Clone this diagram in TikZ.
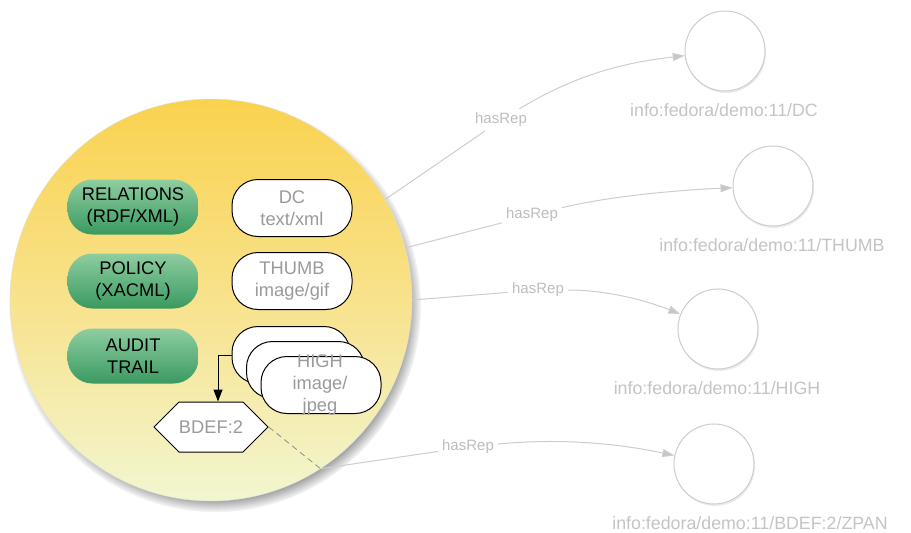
\documentclass[tikz,border=0pt]{standalone}
\usepackage{fontspec}
\setmainfont{Liberation Sans}
\usetikzlibrary{shapes.symbols,shadows,fadings,arrows.meta}
\definecolor{circtop}{HTML}{F9D24E}
\definecolor{circmid}{HTML}{F8E28C}
\definecolor{circbot}{HTML}{F2F6D0}
\definecolor{greentop}{HTML}{8ECDA1}
\definecolor{greenbot}{HTML}{3A9A60}
\definecolor{boxtext}{HTML}{9A9A9A}
\definecolor{relline}{HTML}{CDCDCD}
\definecolor{reltext}{HTML}{BDBDBD}
\definecolor{uritext}{HTML}{C4C4C4}
\tikzset{
  x=1pt, y=-1pt,
  bigcirc/.style={circle, minimum size=402pt, inner sep=0pt, draw=black!12, line width=0.4pt,
     top color=circtop, bottom color=circbot, middle color=circmid,
     circular drop shadow={shadow xshift=4pt, shadow yshift=-6pt, shadow scale=1.025, opacity=1, fill=black!85}},
  greenbox/.style={rectangle, rounded corners=25pt, minimum width=131pt, minimum height=55pt,
     top color=greentop, bottom color=greenbot, align=center, inner sep=0pt,
     font=\fontsize{18.3}{22}\selectfont, text=black},
  whitebox/.style={rectangle, rounded corners=26pt, minimum width=120pt, minimum height=57pt,
     draw=black, line width=1pt, fill=white, align=center, inner sep=0pt,
     font=\fontsize{18.3}{22}\selectfont, text=boxtext},
  hexbox/.style={shape=signal, signal to=west and east, signal pointer angle=90,
     minimum width=108pt, minimum height=50pt, inner sep=0pt, draw=black, line width=1pt, fill=white,
     font=\fontsize{18.3}{22}\selectfont, text=boxtext},
  target/.style={circle, minimum size=80pt, inner sep=0pt, draw=relline, line width=1pt, fill=white,
     drop shadow={shadow xshift=1pt, shadow yshift=-2pt, opacity=0.08, fill=black}},
  uri/.style={font=\fontsize{17.8}{21}\selectfont, text=uritext, inner sep=0pt},
  rellab/.style={font=\fontsize{15}{18}\selectfont, text=reltext, inner sep=4pt},
  relline/.style={draw=relline, line width=1pt},
  relarrow/.style={relline, -{Triangle[length=12pt, width=8pt, fill=black!22]}},
  blackarrow/.style={draw=black, line width=1pt, -{Triangle[length=12pt, width=9pt]}},
}
\begin{document}
\begin{tikzpicture}
\useasboundingbox (0,0) rectangle (911,533);

% big object circle
\node[bigcirc] (big) at (211,300) {};

% green system datastreams
\node[greenbox] (rels) at (133,207) {RELATIONS\\(RDF/XML)};
\node[greenbox] (policy) at (133,281) {POLICY\\(XACML)};
\node[greenbox] (audit) at (133,356) {AUDIT\\TRAIL};

% white datastreams
\node[whitebox] (dc) at (292,208) {DC\\text/xml};
\node[whitebox] (thumb) at (292,281) {THUMB\\image/gif};
\node[whitebox, minimum width=118pt] (high1) at (291,355) {};
\node[whitebox, minimum width=118pt] (high2) at (305.5,370) {};
\node[whitebox] (high3) at (321,385) {};
\node[font=\fontsize{18.3}{22}\selectfont, text=boxtext, align=center, inner sep=0pt] (hightxt) at (320,385) {HIGH\\image/\\jpeg};

% disseminator
\node[hexbox] (bdef) at (211,427) {BDEF:2};
\draw[blackarrow] (high1.west) -| ([xshift=7pt]bdef.north);

% target resources
\node[target] (tdc) at (725,51) {};
\node[target] (tthumb) at (773,186) {};
\node[target] (thigh) at (718,329) {};
\node[target] (tzpan) at (714,464) {};
\node[uri] (udc) at (724,110) {info:fedora/demo:11/DC};
\node[uri] (uthumb) at (772,245) {info:fedora/demo:11/THUMB};
\node[uri] (uhigh) at (717,388) {info:fedora/demo:11/HIGH};
\node[uri] (uzpan) at (750,523) {info:fedora/demo:11/BDEF:2/ZPAN};

% relation labels
\node[rellab] (l1) at (501,120) {hasRep};
\node[rellab] (l2) at (532,215) {hasRep};
\node[rellab] (l3) at (538,290) {hasRep};
\node[rellab] (l4) at (468,447) {hasRep};

% relations
\draw[relline] (big.30) -- (l1);
\draw[relarrow] (l1) .. controls (580,72) and (630,62) .. (tdc);
\draw[relline] (big.15) -- (l2);
\draw[relarrow] (l2) .. controls (610,196) and (680,190) .. (tthumb);
\draw[relline] (big.0) -- (l3);
\draw[relarrow] (l3) .. controls (610,290) and (650,302) .. (thigh);
\draw[draw=black!45, line width=0.8pt, dash pattern=on 6pt off 4pt] (bdef.east) -- (big.-57.5);
\draw[relline] (big.-57.5) -- (l4);
\draw[relarrow] (l4) .. controls (570,437) and (630,446) .. (tzpan);
\end{tikzpicture}
\end{document}
